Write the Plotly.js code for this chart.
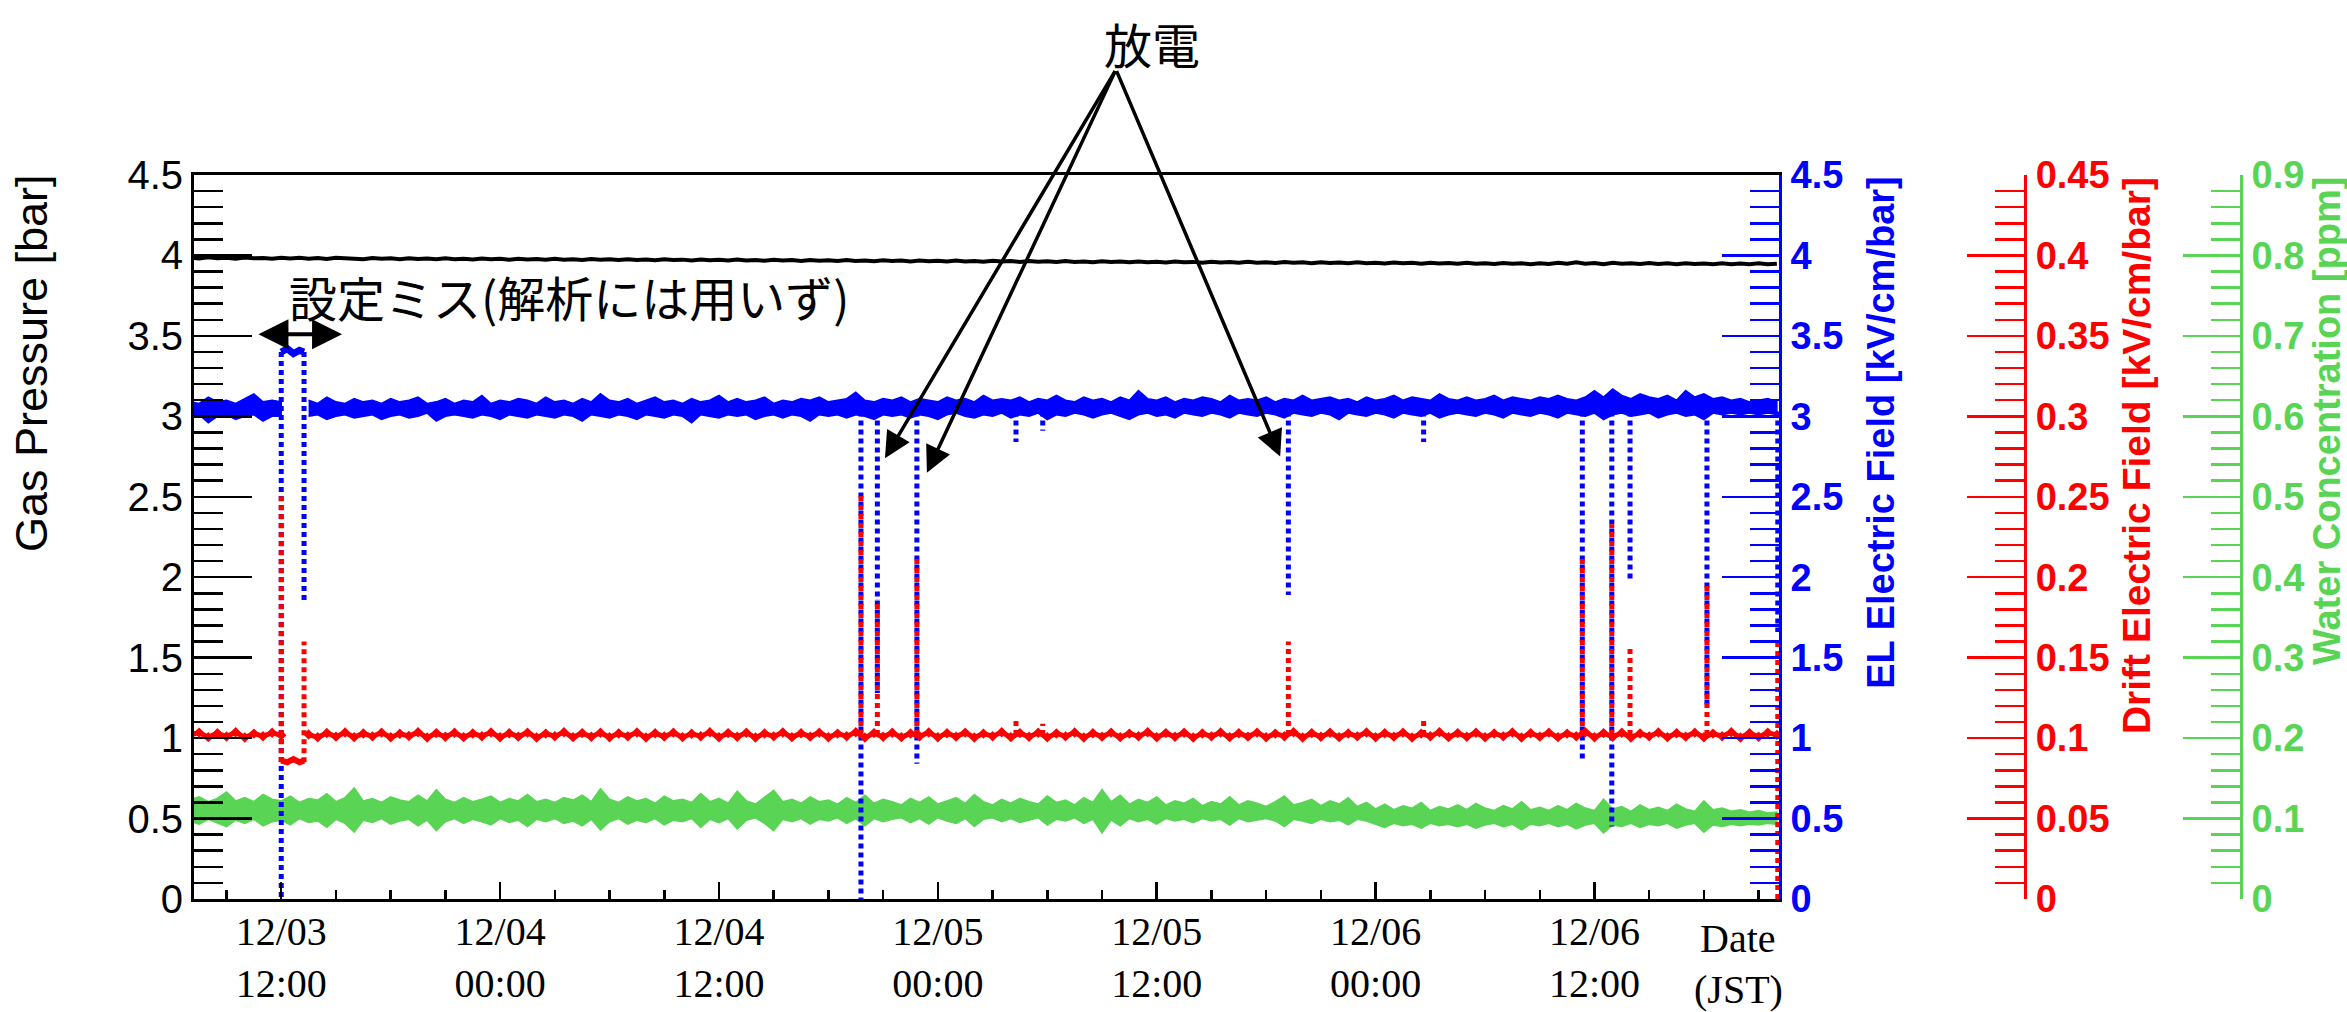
<!DOCTYPE html>
<html><head><meta charset="utf-8">
<script src="https://cdn.plot.ly/plotly-3.0.1.min.js"></script>
<style>html,body{margin:0;padding:0;background:#fff}</style>
</head><body><div id="chart" style="width:2347px;height:1012px"></div>
<script>
// ---- sampling grid of the slow-control logger ----
const sampleStart = '2020-12-03T07:00:00';
const sampleStepMinutes = 30;

// Gas pressure [bar]
const gasPressure = [
3.986,3.981,3.988,3.983,3.985,3.980,3.987,3.982,3.984,3.979,
3.985,3.981,3.986,3.980,3.984,3.978,3.985,3.981,3.983,3.977,
3.984,3.979,3.982,3.977,3.983,3.978,3.981,3.976,3.982,3.977,
3.980,3.975,3.981,3.976,3.979,3.974,3.980,3.975,3.978,3.973,
3.979,3.974,3.977,3.972,3.978,3.973,3.976,3.971,3.977,3.972,
3.975,3.970,3.976,3.971,3.974,3.969,3.975,3.970,3.973,3.968,
3.974,3.969,3.972,3.967,3.973,3.968,3.971,3.966,3.972,3.967,
3.970,3.965,3.971,3.966,3.969,3.964,3.970,3.965,3.968,3.963,
3.969,3.964,3.967,3.962,3.968,3.963,3.966,3.961,3.967,3.962,
3.965,3.960,3.966,3.961,3.964,3.959,3.965,3.960,3.963,3.958,
3.964,3.959,3.962,3.957,3.963,3.958,3.961,3.956,3.962,3.957,
3.960,3.955,3.961,3.956,3.959,3.954,3.960,3.955,3.958,3.953,
3.959,3.954,3.957,3.952,3.958,3.953,3.956,3.951,3.957,3.952,
3.955,3.950,3.956,3.951,3.954,3.949,3.955,3.950,3.953,3.948,
3.954,3.949,3.952,3.947,3.953,3.948,3.951,3.946,3.952,3.947,
3.955,3.948,3.957,3.949,3.953,3.946,3.954,3.948,3.952,3.947,
3.953,3.947,3.951,3.946,3.952,3.947,3.950,3.945,3.951,3.946,
3.950,3.945,3.951,3.946,3.949];

// EL electric field [kV/cm/bar] : upper / lower edge of the noisy band
const elHigh = [
3.09,3.08,3.12,3.09,3.10,3.08,3.11,3.14,3.09,3.10,
3.09,null,null,3.10,3.08,3.12,3.09,3.08,3.11,3.09,
3.10,3.08,3.11,3.09,3.10,3.12,3.08,3.09,3.11,3.08,
3.10,3.09,3.13,3.08,3.10,3.09,3.11,3.10,3.08,3.12,
3.09,3.10,3.08,3.11,3.09,3.14,3.10,3.09,3.11,3.08,
3.10,3.12,3.09,3.10,3.08,3.11,3.09,3.10,3.13,3.09,
3.11,3.09,3.10,3.12,3.08,3.10,3.09,3.11,3.10,3.12,
3.09,3.10,3.11,3.15,3.10,3.09,3.11,3.10,3.12,3.09,
3.11,3.10,3.09,3.12,3.10,3.11,3.09,3.13,3.10,3.11,
3.10,3.12,3.09,3.11,3.10,3.13,3.10,3.09,3.12,3.10,
3.11,3.09,3.12,3.10,3.16,3.11,3.10,3.12,3.09,3.11,
3.10,3.12,3.11,3.09,3.13,3.10,3.11,3.10,3.12,3.09,
3.11,3.10,3.13,3.10,3.11,3.12,3.10,3.11,3.09,3.12,
3.10,3.11,3.13,3.10,3.12,3.11,3.10,3.14,3.11,3.10,
3.12,3.10,3.11,3.13,3.10,3.12,3.11,3.10,3.12,3.11,
3.13,3.11,3.10,3.12,3.16,3.12,3.17,3.13,3.11,3.14,
3.12,3.11,3.13,3.10,3.16,3.12,3.14,3.11,3.12,3.10,
3.11,3.09,3.10,3.11,3.09];
const elLow = [
2.99,3.01,2.96,3.00,3.01,2.98,3.00,3.01,2.97,3.00,
3.00,null,null,3.00,3.01,2.98,3.00,3.01,2.99,3.00,
3.01,2.98,3.00,3.01,2.99,3.00,3.02,2.97,3.00,3.01,
3.00,2.99,3.01,3.00,2.98,3.01,3.00,2.99,3.01,3.00,
2.99,3.01,3.00,2.97,3.01,3.00,2.99,3.01,3.00,2.98,
3.01,3.00,2.99,3.01,3.00,2.96,3.01,3.00,2.99,3.01,
3.00,3.01,2.98,3.00,3.01,2.99,3.01,3.00,2.97,3.01,
3.00,3.01,2.99,3.01,3.00,2.98,3.01,3.00,3.01,2.99,
3.01,3.00,2.98,3.01,3.02,3.00,2.99,3.01,3.00,3.02,
2.99,3.01,3.00,3.02,2.98,3.01,3.00,3.02,3.01,2.99,
3.01,3.02,3.00,2.98,3.01,3.02,3.00,3.01,2.99,3.02,
3.01,3.00,3.02,3.01,2.99,3.02,3.01,3.00,3.02,3.01,
2.99,3.02,3.01,3.00,3.02,3.01,2.98,3.02,3.01,3.00,
3.02,3.01,2.99,3.02,3.01,3.00,3.02,2.99,3.01,3.02,
3.01,3.00,3.02,3.01,2.99,3.02,3.01,3.00,3.02,3.01,
2.99,3.02,3.01,3.00,3.02,2.98,3.01,3.02,3.00,3.01,
3.02,2.99,3.01,3.02,3.00,3.01,2.98,3.02,3.01,3.02,
3.01,3.02,3.01,3.02,3.01];

// Drift electric field [kV/cm/bar]
const driftField = [
0.1020,0.1034,0.1006,0.1030,0.1010,0.1036,0.1004,0.1028,0.1012,0.1033,
0.1018,null,null,0.1022,0.1005,0.1032,0.1009,0.1035,0.1006,0.1029,
0.1011,0.1034,0.1005,0.1027,0.1013,0.1036,0.1004,0.1031,0.1008,0.1033,
0.1006,0.1029,0.1012,0.1035,0.1005,0.1030,0.1009,0.1034,0.1004,0.1028,
0.1012,0.1036,0.1006,0.1031,0.1008,0.1033,0.1005,0.1029,0.1011,0.1035,
0.1004,0.1030,0.1010,0.1034,0.1006,0.1027,0.1012,0.1036,0.1005,0.1031,
0.1008,0.1033,0.1004,0.1029,0.1011,0.1035,0.1006,0.1030,0.1009,0.1034,
0.1005,0.1028,0.1012,0.1036,0.1004,0.1031,0.1008,0.1033,0.1006,0.1029,
0.1011,0.1035,0.1005,0.1030,0.1009,0.1034,0.1004,0.1028,0.1012,0.1036,
0.1006,0.1031,0.1008,0.1033,0.1005,0.1029,0.1011,0.1035,0.1004,0.1030,
0.1009,0.1034,0.1006,0.1028,0.1012,0.1036,0.1005,0.1031,0.1008,0.1033,
0.1004,0.1029,0.1011,0.1035,0.1006,0.1030,0.1009,0.1034,0.1005,0.1028,
0.1012,0.1036,0.1004,0.1031,0.1008,0.1033,0.1006,0.1029,0.1011,0.1035,
0.1005,0.1030,0.1009,0.1034,0.1004,0.1028,0.1012,0.1036,0.1006,0.1031,
0.1008,0.1033,0.1005,0.1029,0.1011,0.1035,0.1004,0.1030,0.1009,0.1034,
0.1006,0.1028,0.1012,0.1036,0.1005,0.1031,0.1008,0.1033,0.1004,0.1029,
0.1011,0.1035,0.1006,0.1030,0.1009,0.1034,0.1005,0.1028,0.1012,0.1036,
0.1004,0.1031,0.1008,0.1033,0.1020];

// Water concentration [ppm] : upper / lower edge of the noisy band
const waterHigh = [
0.123,0.127,0.121,0.125,0.133,0.122,0.126,0.121,0.130,0.124,
0.122,0.128,0.120,0.125,0.123,0.131,0.121,0.126,0.138,0.122,
0.125,0.120,0.127,0.123,0.121,0.129,0.122,0.136,0.124,0.120,
0.126,0.121,0.124,0.128,0.120,0.125,0.122,0.130,0.121,0.124,
0.120,0.126,0.123,0.129,0.121,0.137,0.124,0.120,0.127,0.122,
0.125,0.119,0.128,0.122,0.124,0.120,0.131,0.121,0.125,0.119,
0.134,0.122,0.118,0.126,0.135,0.121,0.124,0.119,0.127,0.121,
0.123,0.118,0.126,0.120,0.129,0.119,0.124,0.121,0.117,0.125,
0.120,0.127,0.118,0.122,0.126,0.119,0.130,0.121,0.117,0.124,
0.119,0.125,0.121,0.118,0.128,0.120,0.123,0.117,0.126,0.120,
0.136,0.121,0.129,0.118,0.124,0.120,0.127,0.117,0.122,0.119,
0.125,0.116,0.121,0.118,0.127,0.117,0.122,0.119,0.115,0.121,
0.128,0.117,0.120,0.124,0.116,0.122,0.118,0.126,0.115,0.120,
0.112,0.118,0.111,0.116,0.113,0.120,0.110,0.115,0.112,0.117,
0.111,0.119,0.113,0.110,0.116,0.112,0.121,0.111,0.114,0.110,
0.116,0.111,0.119,0.113,0.110,0.124,0.112,0.115,0.109,0.117,
0.111,0.114,0.110,0.118,0.112,0.109,0.122,0.111,0.113,0.109,
0.111,0.108,0.110,0.107,0.108];
const waterLow = [
0.097,0.093,0.099,0.095,0.090,0.098,0.094,0.099,0.091,0.096,
0.098,0.092,0.100,0.095,0.097,0.089,0.099,0.094,0.083,0.098,
0.095,0.100,0.093,0.097,0.099,0.091,0.098,0.085,0.096,0.100,
0.094,0.099,0.096,0.092,0.100,0.095,0.098,0.090,0.099,0.096,
0.100,0.094,0.097,0.091,0.099,0.086,0.096,0.100,0.093,0.098,
0.095,0.100,0.092,0.098,0.096,0.100,0.089,0.099,0.095,0.100,
0.087,0.098,0.101,0.094,0.085,0.099,0.096,0.100,0.093,0.099,
0.097,0.101,0.094,0.100,0.091,0.100,0.096,0.099,0.101,0.095,
0.100,0.093,0.101,0.097,0.094,0.100,0.090,0.099,0.101,0.096,
0.100,0.095,0.098,0.101,0.092,0.099,0.097,0.101,0.094,0.099,
0.082,0.098,0.091,0.100,0.096,0.099,0.093,0.100,0.097,0.099,
0.095,0.100,0.097,0.099,0.092,0.100,0.096,0.098,0.100,0.097,
0.090,0.099,0.097,0.094,0.099,0.096,0.098,0.092,0.099,0.097,
0.093,0.089,0.094,0.091,0.093,0.088,0.094,0.091,0.093,0.090,
0.093,0.088,0.092,0.094,0.090,0.093,0.086,0.093,0.091,0.094,
0.090,0.093,0.087,0.092,0.094,0.082,0.092,0.090,0.094,0.089,
0.093,0.091,0.094,0.088,0.092,0.094,0.083,0.092,0.090,0.093,
0.091,0.093,0.092,0.094,0.093];

// Wrong set-point period (not used in the analysis)
const mistakeTimes = ['2020-12-03 12:00','2020-12-03 12:20','2020-12-03 12:40','2020-12-03 13:00','2020-12-03 13:15'];
const mistakeEL    = [3.40,3.42,3.39,3.41,3.40];
const mistakeDrift = [0.086,0.085,0.087,0.085,0.086];

// Field changes (discharges / trips)
const eventTimes = ['2020-12-03 12:00','2020-12-03 13:15','2020-12-04 19:47','2020-12-04 20:41','2020-12-04 22:51',
  '2020-12-05 04:17','2020-12-05 05:45','2020-12-05 19:13','2020-12-06 02:38','2020-12-06 11:20',
  '2020-12-06 12:57','2020-12-06 13:57','2020-12-06 18:10','2020-12-06 22:03'];
const elEventTop       = [3.40,3.40,3.03,3.03,3.03,3.03,3.03,3.03,3.03,3.03,3.03,3.03,3.03,3.03];
const elEventBottom    = [0.00,1.84,0.00,1.28,0.84,2.84,2.91,1.89,2.84,0.85,0.45,1.98,1.20,1.66];
const driftEventBottom = [0.085,0.085,0.102,0.102,0.102,0.102,0.102,0.102,0.102,0.102,0.102,0.102,0.102,0.000];
const driftEventTop    = [0.252,0.160,0.253,0.186,0.212,0.113,0.109,0.160,0.113,0.213,0.233,0.157,0.195,0.160];

// Annotation targets
const dischargeTips = [['2020-12-04 21:06',2.74],['2020-12-04 23:24',2.65],['2020-12-05 18:46',2.75]];
const dischargeLabelAt = ['2020-12-05 09:46',5.155];
const mistakeSpan = ['2020-12-03 10:40','2020-12-03 15:20',3.51];

// ---- build ----
const BLUE='#0000ff', RED='#ff0000', GREEN='#59d454', BLACK='#000000';
const t0 = new Date(sampleStart+'Z').getTime();
const stamp = ms => new Date(ms).toISOString().slice(0,16).replace('T',' ');
const times = gasPressure.map((_,i)=>stamp(t0+i*sampleStepMinutes*60000));

function band(hi, lo){
  const xs=[], ys=[]; let run=[];
  const flush=()=>{ if(run.length){ run.forEach(i=>{xs.push(times[i]);ys.push(hi[i]);});
    run.slice().reverse().forEach(i=>{xs.push(times[i]);ys.push(lo[i]);}); xs.push(null); ys.push(null);} run=[]; };
  hi.forEach((v,i)=>{ if(v===null||lo[i]===null) flush(); else run.push(i); });
  flush();
  return {x:xs,y:ys};
}
function verticals(ts, a, b){
  const xs=[], ys=[];
  ts.forEach((t,i)=>{ xs.push(t,t,null); ys.push(a[i],b[i],null); });
  return {x:xs,y:ys};
}

const wb = band(waterHigh, waterLow);
const eb = band(elHigh, elLow);
const ev = verticals(eventTimes, elEventTop, elEventBottom);
const dv = verticals(eventTimes, driftEventBottom, driftEventTop);

const traces = [
  {type:'scatter',mode:'lines',x:wb.x,y:wb.y,fill:'toself',fillcolor:GREEN,line:{color:GREEN,width:1.5},yaxis:'y',hoverinfo:'skip'},
  {type:'scatter',mode:'lines',x:times,y:gasPressure,line:{color:BLACK,width:4},yaxis:'y2',hoverinfo:'skip'},
  {type:'scatter',mode:'lines',x:eb.x,y:eb.y,fill:'toself',fillcolor:BLUE,line:{color:BLUE,width:1.5},yaxis:'y3',hoverinfo:'skip'},
  {type:'scatter',mode:'lines',x:mistakeTimes,y:mistakeEL,line:{color:BLUE,width:7},yaxis:'y3',hoverinfo:'skip'},
  {type:'scatter',mode:'lines',x:ev.x,y:ev.y,line:{color:BLUE,width:5,dash:'5px,4px'},yaxis:'y3',hoverinfo:'skip'},
  {type:'scatter',mode:'lines+markers',x:times,y:driftField,line:{color:RED,width:5},marker:{symbol:'diamond',size:8,color:RED},yaxis:'y4',hoverinfo:'skip'},
  {type:'scatter',mode:'lines',x:mistakeTimes,y:mistakeDrift,line:{color:RED,width:6},yaxis:'y4',hoverinfo:'skip'},
  {type:'scatter',mode:'lines',x:dv.x,y:dv.y,line:{color:RED,width:5,dash:'5px,4px'},yaxis:'y4',hoverinfo:'skip'}
];

const sans = 'Liberation Sans, Arial, sans-serif';
const serif = 'Liberation Serif, Times New Roman, serif';
const jp = 'Noto Sans CJK JP, sans-serif';
function yax(color, range, dtick, minor, extra){
  return Object.assign({range:range, dtick:dtick, tick0:0, ticks:'inside', ticklen:57, tickwidth:2.5, tickcolor:color,
    minor:{dtick:minor, ticks:'inside', ticklen:29, tickwidth:2.5, tickcolor:color},
    showline:true, linecolor:color, linewidth:3, showgrid:false, zeroline:false, fixedrange:true}, extra);
}
const boldTick = c => ({family:sans, size:38, weight:'bold', color:c});

const layout = {
  width:2347, height:1012,
  margin:{l:194, r:106, t:175, b:113, pad:0},
  paper_bgcolor:'#ffffff', plot_bgcolor:'rgba(0,0,0,0)', showlegend:false,
  xaxis:{type:'date', domain:[0,0.7743], range:['2020-12-03 07:13','2020-12-06 22:07'],
    tick0:'2020-12-03 12:00', dtick:43200000, tickformat:'%m/%d<br>%H:%M',
    ticks:'inside', ticklen:17, tickwidth:2.5, tickcolor:BLACK,
    minor:{dtick:10800000, ticks:'inside', ticklen:9, tickwidth:2.5, tickcolor:BLACK},
    showline:true, linewidth:3, linecolor:BLACK, mirror:true, showgrid:false, zeroline:false,
    tickfont:{family:serif, size:40, color:BLACK}, ticklabelstandoff:-5},
  yaxis: yax(GREEN,[0,0.9],0.1,0.02,{anchor:'free', position:1, side:'right', tickfont:boldTick(GREEN), ticklabelstandoff:1}),
  yaxis2: yax(BLACK,[0,4.5],0.5,0.1,{overlaying:'y', anchor:'x', side:'left', ticklen:58, tickfont:{family:sans,size:40,color:BLACK}, ticklabelstandoff:0}),
  yaxis3: yax(BLUE,[0,4.5],0.5,0.1,{overlaying:'y', anchor:'x', side:'right', tickfont:boldTick(BLUE), ticklabelstandoff:1}),
  yaxis4: yax(RED,[0,0.45],0.05,0.01,{overlaying:'y', anchor:'free', position:0.8945, side:'right', tickfont:boldTick(RED), ticklabelstandoff:1}),
  annotations:[
    {xref:'paper',yref:'paper',x:-0.0796,y:1.0041,xanchor:'center',yanchor:'top',textangle:-90,showarrow:false,
     text:'Gas Pressure [bar]',font:{family:sans,size:45,color:BLACK}},
    {xref:'paper',yref:'paper',x:0.8240,y:1.0,xanchor:'center',yanchor:'top',textangle:-90,showarrow:false,
     text:'EL Electric Field [kV/cm/bar]',font:{family:sans,size:38,weight:'bold',color:BLUE}},
    {xref:'paper',yref:'paper',x:0.9490,y:1.0,xanchor:'center',yanchor:'top',textangle:-90,showarrow:false,
     text:'Drift Electric Field [kV/cm/bar]',font:{family:sans,size:39,weight:'bold',color:RED}},
    {xref:'paper',yref:'paper',x:1.0420,y:1.0,xanchor:'center',yanchor:'top',textangle:-90,showarrow:false,
     text:'Water Concentration [ppm]',font:{family:sans,size:38,weight:'bold',color:GREEN}},
    {xref:'paper',yref:'paper',x:0.7543,y:-0.0547,xanchor:'center',yanchor:'middle',showarrow:false,
     text:'Date',font:{family:serif,size:40,color:BLACK}},
    {xref:'paper',yref:'paper',x:0.7543,y:-0.1250,xanchor:'center',yanchor:'middle',showarrow:false,
     text:'(JST)',font:{family:serif,size:40,color:BLACK}},
    {xref:'paper',yref:'paper',x:0.468,y:1.1823,xanchor:'center',yanchor:'middle',showarrow:false,
     text:'放電',font:{family:jp,size:48,color:BLACK}},
    {xref:'paper',yref:'paper',x:0.0454,y:0.8329,xanchor:'left',yanchor:'middle',showarrow:false,
     text:'設定ミス(解析には用いず)',font:{family:jp,size:48,color:BLACK}},
    {xref:'x',yref:'y2',axref:'x',ayref:'y2',x:mistakeSpan[1],y:mistakeSpan[2],ax:mistakeSpan[0],ay:mistakeSpan[2],
     text:'',showarrow:true,arrowhead:2,arrowside:'end+start',arrowsize:1.5,arrowwidth:4,arrowcolor:BLACK,standoff:0,startstandoff:0}
  ].concat(dischargeTips.map(tp=>({xref:'x',yref:'y2',axref:'x',ayref:'y2',x:tp[0],y:tp[1],ax:dischargeLabelAt[0],ay:dischargeLabelAt[1],
     text:'',showarrow:true,arrowhead:2,arrowsize:1.5,arrowwidth:3.5,arrowcolor:BLACK,standoff:0,startstandoff:0})))
};

Plotly.newPlot('chart', traces, layout, {displayModeBar:false, staticPlot:true});
</script></body></html>
